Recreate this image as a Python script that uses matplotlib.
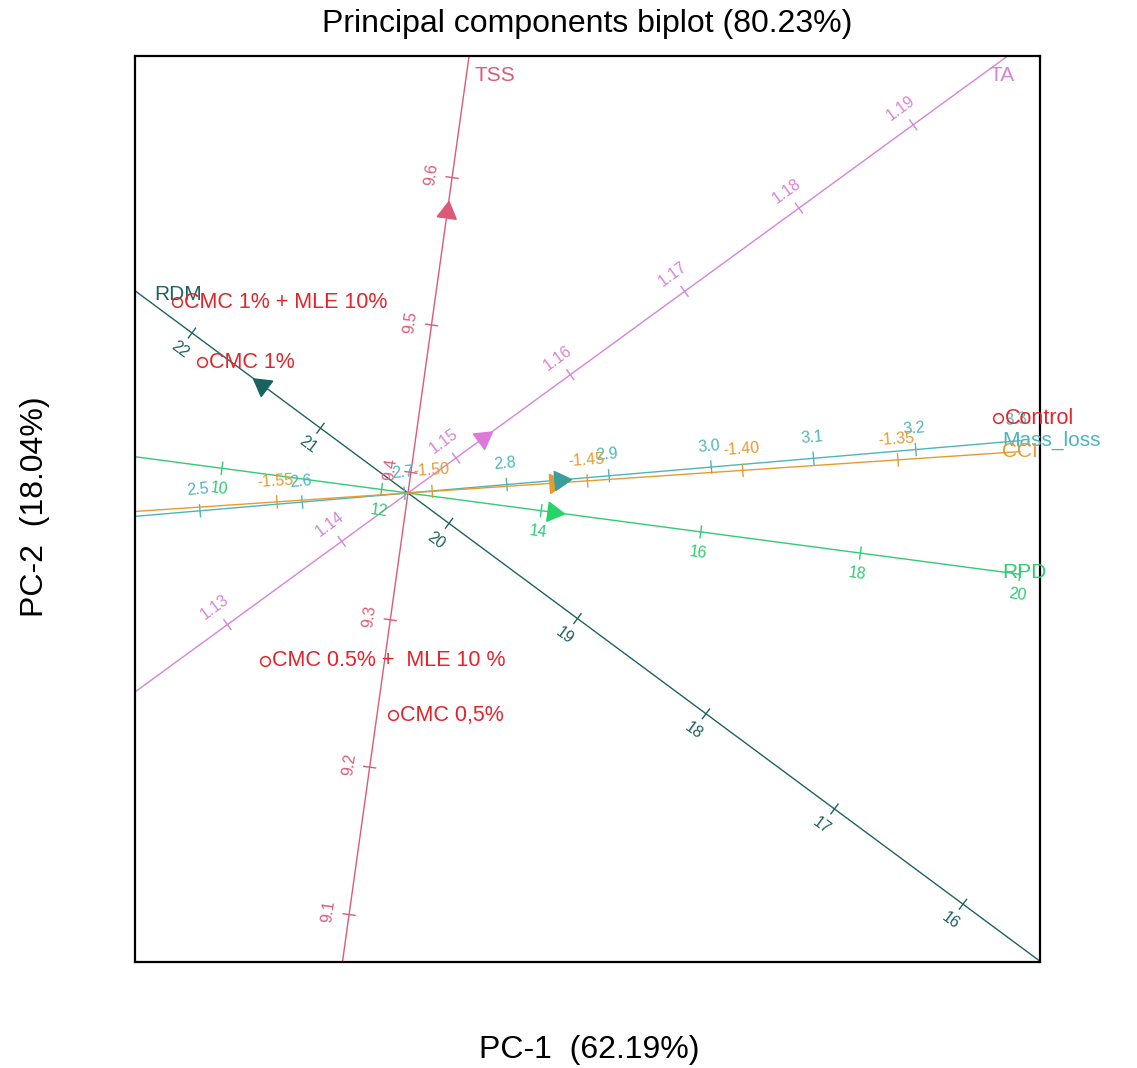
import numpy as np
import matplotlib.pyplot as plt

plt.rcParams['font.family'] = ['Liberation Sans', 'DejaVu Sans']

# sample scores on the first two principal components
treatments = ["CMC 1% + MLE 10%", "CMC 1%", "Control", "CMC 0.5% +  MLE 10 %", "CMC 0,5%"]
pc1 = [-2.31, -2.06, 5.90, -1.43, -0.15]
pc2 = [1.91, 1.31, 0.75, -1.68, -2.22]

# calibrated variable axes: value at the origin and shift in the plane per unit of the variable
variables = ["TSS", "TA", "RDM", "RPD", "Mass_loss", "CCI"]
centre_values = [9.386, 1.1458, 20.319, 12.331, 2.7034, -1.5078]
unit_dx = [2.06, 114.3, -1.285, 0.798, 10.225, 31.05]
unit_dy = [14.74, 83.3, 0.952, -0.106, 0.875, 2.10]
arrow_x = [0.39, 0.75, -1.46, 1.45, 1.52, 1.47]
arrow_y = [2.81, 0.55, 1.08, -0.19, 0.13, 0.10]
tick_labels = [
    ["9.1", "9.2", "9.3", "9.4", "9.5", "9.6"],
    ["1.13", "1.14", "1.15", "1.16", "1.17", "1.18", "1.19"],
    ["16", "17", "18", "19", "20", "21", "22"],
    ["10", "12", "14", "16", "18", "20"],
    ["2.5", "2.6", "2.7", "2.8", "2.9", "3.0", "3.1", "3.2", "3.3"],
    ["-1.55", "-1.50", "-1.45", "-1.40", "-1.35"],
]

colors = ["#DC5A78", "#D883D8", "#1F6262", "#30CC72", "#4DB5BA", "#E69B30"]
arrow_colors = ["#DC5A78", "#DC7ADC", "#1A6262", "#26D468", "#3C9E9C", "#E69B30"]
label_side = [1, 1, 1, -1, 1, 1]
name_offset = [(4, -14), (-4, -14), (14, -3), (-13, 1.5), (-13, 0), (-13, 0)]
name_ha = ["left", "center", "left", "left", "left", "left"]
sample_color = "#E3242B"

XMIN, XMAX, YMIN, YMAX = -2.73, 6.32, -4.69, 4.37


def frame_hit(ux, uy, xmax=XMAX):
    ts = []
    if ux > 0:
        ts.append(xmax / ux)
    elif ux < 0:
        ts.append(XMIN / ux)
    if uy > 0:
        ts.append(YMAX / uy)
    elif uy < 0:
        ts.append(YMIN / uy)
    t = min(ts)
    return t * ux, t * uy, t


fig = plt.figure(figsize=(11.37, 10.68), dpi=100)
ax = fig.add_axes([135 / 1137, 1 - 962 / 1068, 905 / 1137, 906 / 1068])
ax.set_xlim(XMIN, XMAX)
ax.set_ylim(YMIN, YMAX)
ax.set_xticks([])
ax.set_yticks([])
for sp in ax.spines.values():
    sp.set_linewidth(1.6)
    sp.set_color("black")

for i, var in enumerate(variables):
    c = colors[i]
    norm = np.hypot(unit_dx[i], unit_dy[i])
    ux, uy = unit_dx[i] / norm, unit_dy[i] / norm
    nx, ny = -uy, ux
    direction = np.degrees(np.arctan2(uy, ux))

    # axis line: full length on the negative side, stops short of the label on the right
    hx, hy, t_end = frame_hit(ux, uy)
    if abs(hx - XMAX) < 1e-6:
        hx, hy, t_end = frame_hit(ux, uy, XMAX - 0.2)
    _, _, t_start = frame_hit(-ux, -uy)
    ax.plot([-t_start * ux, t_end * ux], [-t_start * uy, t_end * uy], color=c, lw=1.0, zorder=2)

    ang = direction
    if ang > 90:
        ang -= 180
    elif ang < -90:
        ang += 180

    for lab in tick_labels[i]:
        v = float(lab) - centre_values[i]
        px, py = v * unit_dx[i], v * unit_dy[i]
        ax.plot([px - 0.06 * nx, px + 0.06 * nx], [py - 0.06 * ny, py + 0.06 * ny],
                color=c, lw=1.0, zorder=2)
        s = label_side[i] * 0.21
        ax.text(px + s * nx, py + s * ny, lab, color=c, fontsize=11.5, rotation=ang,
                rotation_mode="anchor", ha="center", va="center", zorder=3)

    # later variables sit underneath, so Mass_loss covers the CCI marker
    ax.plot(arrow_x[i], arrow_y[i], marker=(3, 0, direction - 90), ms=16,
            color=arrow_colors[i], mec=arrow_colors[i], zorder=4.5 - 0.1 * i)

    ax.annotate(var, (hx, hy), xytext=name_offset[i], textcoords="offset points",
                ha=name_ha[i], va="center", color=c, fontsize=15, zorder=5,
                annotation_clip=False)

ax.plot(pc1, pc2, "o", ms=7, mfc="none", mec=sample_color, mew=1.1, zorder=5)
for name, x, y in zip(treatments, pc1, pc2):
    ax.annotate(name, (x, y), xytext=(5, 0), textcoords="offset points",
                ha="left", va="center", color=sample_color, fontsize=15.5, zorder=6)

fig.text(587.5 / 1137, 1 - 24 / 1068, "Principal components biplot (80.23%)",
         ha="center", va="center", fontsize=23)
fig.text(589 / 1137, 1 - 1050 / 1068, "PC-1  (62.19%)", ha="center", va="center", fontsize=23)
fig.text(35 / 1137, 1 - 507 / 1068, "PC-2  (18.04%)", ha="center", va="center",
         fontsize=23, rotation=90)

fig.savefig("out.png", dpi=100)
